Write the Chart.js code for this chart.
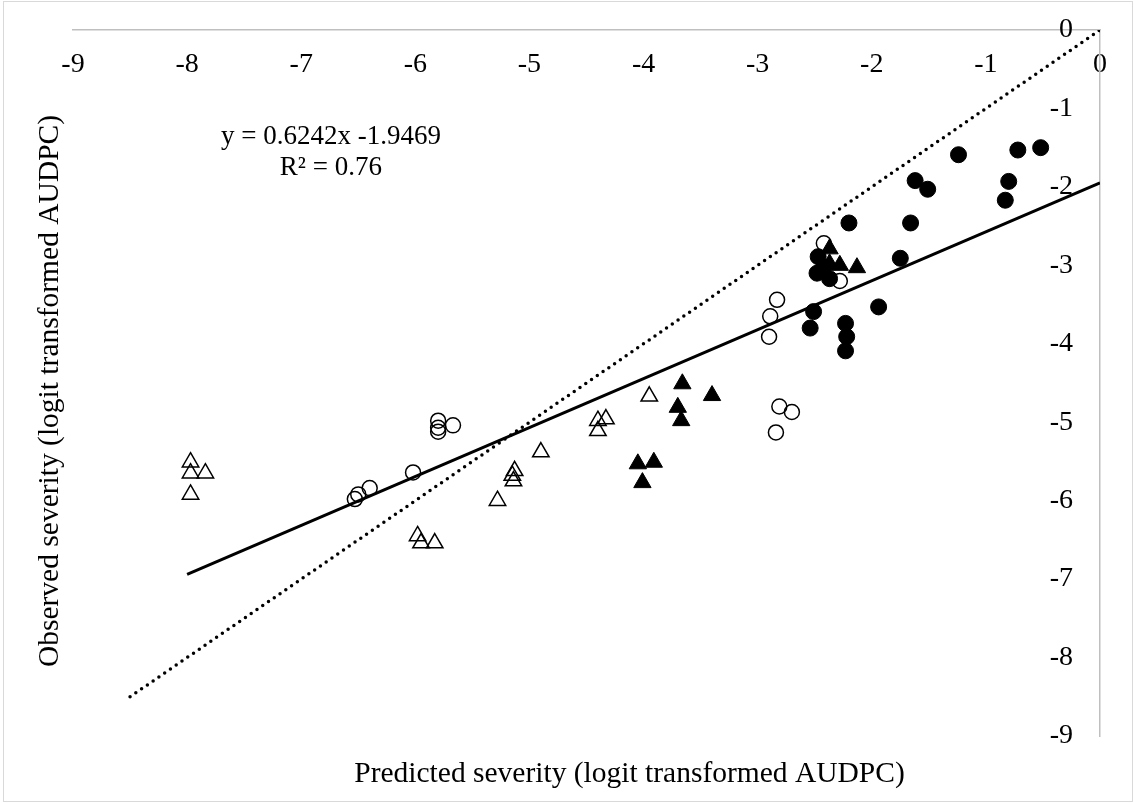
<!DOCTYPE html>
<html>
<head>
<meta charset="utf-8">
<script src="https://cdn.jsdelivr.net/npm/chart.js@4.4.0/dist/chart.umd.min.js"></script>
<style>
    body { margin: 0; background: #fff; }
    #wrap { position: relative; width: 1134px; height: 803px; }
    #frame { position: absolute; left: 3px; top: 1px; width: 1130px; height: 801px;
             border: 1px solid #d9d9d9; box-sizing: border-box; pointer-events: none; }
</style>
</head>
<body>
<div id="wrap">
    <canvas id="myChart" width="1134" height="803"></canvas>
    <div id="frame"></div>
</div>
<script>
(function(){
    "use strict";

    // tick labels
    var xTickValues = [-9, -8, -7, -6, -5, -4, -3, -2, -1, 0];
    var yTickValues = [0, -1, -2, -3, -4, -5, -6, -7, -8, -9];

    // [predicted, observed]
    var filledCircles = [
        [-1.24, -1.59], [-0.72, -1.53], [-0.52, -1.50], [-1.62, -1.92], [-1.51, -2.03],
        [-0.80, -1.93], [-0.83, -2.17], [-2.20, -2.46], [-1.66, -2.46], [-1.75, -2.91],
        [-2.47, -2.89], [-2.48, -3.10], [-2.37, -3.17], [-2.42, -3.02], [-1.94, -3.53],
        [-2.51, -3.59], [-2.54, -3.80], [-2.23, -3.74], [-2.22, -3.91], [-2.23, -4.09]
    ];
    var openCircles = [
        [-2.42, -2.72], [-2.28, -3.20], [-2.83, -3.44], [-2.89, -3.65], [-2.90, -3.91],
        [-2.81, -4.80], [-2.70, -4.87], [-2.84, -5.13], [-5.80, -4.98], [-5.80, -5.07],
        [-5.80, -5.12], [-5.67, -5.04], [-6.02, -5.64], [-6.40, -5.84], [-6.50, -5.92],
        [-6.53, -5.98]
    ];
    var filledTriangles = [
        [-3.66, -4.51], [-3.40, -4.66], [-3.70, -4.81], [-3.67, -4.98], [-4.05, -5.53],
        [-3.91, -5.51], [-4.01, -5.77], [-2.37, -2.79], [-2.37, -2.98], [-2.28, -3.00],
        [-2.13, -3.03]
    ];
    var openTriangles = [
        [-7.97, -5.51], [-7.97, -5.65], [-7.84, -5.65], [-7.97, -5.92], [-5.98, -6.45],
        [-5.95, -6.54], [-5.83, -6.54], [-3.95, -4.67], [-4.40, -4.98], [-4.33, -4.96],
        [-4.40, -5.11], [-4.90, -5.38], [-5.13, -5.62], [-5.15, -5.68], [-5.14, -5.75],
        [-5.28, -6.00]
    ];
    var trendLine = [[-8, -6.94], [0, -1.95]];
    var oneToOne = [[-8.5, -8.5], [0, 0]];
    var equationText = ['y = 0.6242x -1.9469', 'R\u00b2 = 0.76'];

    var serif = "'Liberation Serif', 'Times New Roman', serif";

    function toPoints(arr){
        return arr.map(function(p){ return {x: p[0], y: p[1]}; });
    }

    function setTicks(values){
        return function(scale){
            scale.ticks = values.map(function(v){ return {value: v}; });
        };
    }

    var equationPlugin = {
        id: 'equation',
        afterDatasetsDraw: function(chart){
            var ctx = chart.ctx;
            var x = chart.scales.x.getPixelForValue(-6.74);
            var y = chart.scales.y.getPixelForValue(-1.36);
            ctx.save();
            ctx.font = '27px ' + serif;
            ctx.fillStyle = '#000';
            ctx.textAlign = 'center';
            ctx.textBaseline = 'middle';
            ctx.fillText(equationText[0], x, y);
            ctx.fillText(equationText[1], x, y + 31);
            ctx.restore();
        }
    };

    // the axis titles in the original sit a little off the plot centre
    var titleNudge = {
        id: 'titleNudge',
        afterLayout: function(chart){
            chart.scales.xTitle.left += 86;
            chart.scales.yTitle.top += 16;
        }
    };

    var gray = '#bfbfbf';
    var ctx = document.getElementById('myChart').getContext('2d');
    var myChart = new Chart(ctx, {
        type: 'scatter',
        data: {
            datasets: [{
                label: 'filled circles',
                data: toPoints(filledCircles),
                pointStyle: 'circle',
                pointRadius: 8,
                backgroundColor: '#000',
                borderColor: '#000',
                borderWidth: 1
            }, {
                label: 'open circles',
                data: toPoints(openCircles),
                pointStyle: 'circle',
                pointRadius: 7.5,
                backgroundColor: 'rgba(0,0,0,0)',
                borderColor: '#000',
                borderWidth: 1.5
            }, {
                label: 'filled triangles',
                data: toPoints(filledTriangles),
                pointStyle: 'triangle',
                pointRadius: 10,
                backgroundColor: '#000',
                borderColor: '#000',
                borderWidth: 1
            }, {
                label: 'open triangles',
                data: toPoints(openTriangles),
                pointStyle: 'triangle',
                pointRadius: 9.5,
                backgroundColor: 'rgba(0,0,0,0)',
                borderColor: '#000',
                borderWidth: 1.5
            }, {
                label: 'trend',
                data: toPoints(trendLine),
                showLine: true,
                pointRadius: 0,
                borderColor: '#000',
                borderWidth: 3
            }, {
                label: '1:1',
                data: toPoints(oneToOne),
                showLine: true,
                pointRadius: 0,
                borderColor: '#000',
                borderWidth: 3.5,
                borderDash: [0, 7],
                borderCapStyle: 'round'
            }]
        },
        options: {
            responsive: false,
            animation: false,
            devicePixelRatio: 1,
            layout: { padding: { left: 0, right: 34, top: 30, bottom: 0 } },
            plugins: {
                legend: { display: false },
                tooltip: { enabled: false }
            },
            scales: {
                x: {
                    type: 'linear',
                    min: -9,
                    max: 0,
                    position: { y: 0 },
                    grid: { display: false, drawTicks: false },
                    border: { display: true, color: gray, width: 1.5 },
                    ticks: { padding: 18, color: '#000', font: { family: serif, size: 28 } },
                    afterBuildTicks: setTicks(xTickValues),
                    afterFit: function(s){
                        s.height = 0;
                        s.paddingLeft = 0;
                        s.paddingRight = 0;
                    }
                },
                y: {
                    type: 'linear',
                    min: -9,
                    max: 0,
                    position: 'right',
                    grid: { display: false, drawTicks: false },
                    border: { display: true, color: gray, width: 1.5 },
                    ticks: { mirror: true, padding: -27, color: '#000', font: { family: serif, size: 28 } },
                    afterBuildTicks: setTicks(yTickValues),
                    afterFit: function(s){
                        s.width = 0;
                        s.paddingTop = 0;
                        s.paddingBottom = 0;
                    }
                },
                xTitle: {
                    type: 'linear',
                    axis: 'x',
                    position: 'bottom',
                    ticks: { display: false },
                    grid: { display: false, drawTicks: false },
                    border: { display: false },
                    title: {
                        display: true,
                        text: 'Predicted severity (logit transformed AUDPC)',
                        color: '#000',
                        font: { family: serif, size: 29.5 },
                        padding: { top: 0, bottom: 11 }
                    },
                    afterFit: function(s){ s.height = 67; }
                },
                yTitle: {
                    type: 'linear',
                    axis: 'y',
                    position: 'left',
                    ticks: { display: false },
                    grid: { display: false, drawTicks: false },
                    border: { display: false },
                    title: {
                        display: true,
                        text: 'Observed severity (logit transformed AUDPC)',
                        color: '#000',
                        font: { family: serif, size: 29.5 },
                        padding: { top: 33, bottom: 0 }
                    },
                    afterFit: function(s){ s.width = 73; }
                }
            }
        },
        plugins: [equationPlugin, titleNudge]
    });
})();
</script>
</body>
</html>
